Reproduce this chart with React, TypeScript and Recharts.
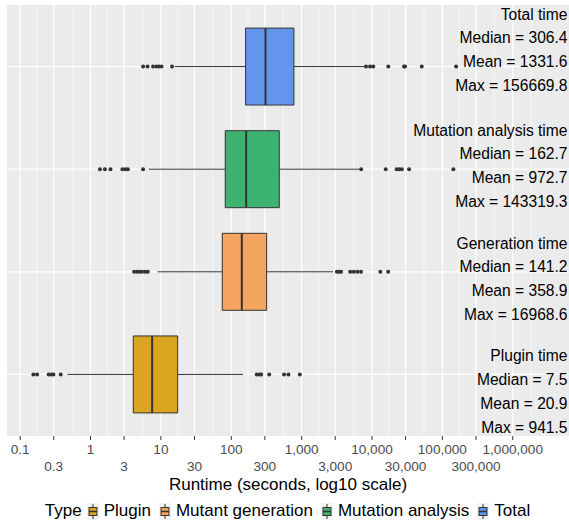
import React from "react";
import { CartesianGrid, ComposedChart, Label, ReferenceArea, ReferenceLine, Scatter, XAxis, YAxis } from "recharts";

const FONT = "'Liberation Sans', Arial, Helvetica, sans-serif";

// one entry per box, bottom to top
const types = ["Plugin", "Mutant generation", "Mutation analysis", "Total"];
const colors = ["#DAA520", "#F4A460", "#3CB371", "#6495ED"];
const positions = [1, 2, 3, 4];

const lowerWhisker = [0.47, 9.0, 6.7, 15.8];
const q1 = [4.05, 74.5, 82.1, 159.7];
const medians = [7.5, 141.2, 162.7, 306.4];
const q3 = [17.3, 318, 481, 777];
const upperWhisker = [147, 2800, 6600, 7940];

const pluginOutliers = [0.154, 0.174, 0.254, 0.276, 0.297, 0.377, 230, 251, 266, 346, 562, 649, 941.5];
const generationOutliers = [4.16, 4.57, 4.96, 5.38, 5.94, 6.51, 3160, 3430, 3630, 4900, 5510, 6200, 6980, 13130, 16968.6];
const mutationOutliers = [1.36, 1.6, 1.92, 2.84, 3.13, 3.39, 5.58, 7000, 15670, 22400, 24400, 26500, 33600, 143319.3];
const totalOutliers = [5.58, 6.45, 7.74, 8.65, 9.42, 10.2, 14.4, 8220, 9370, 10420, 17060, 28500, 29500, 50900, 156669.8];
const outliers = [pluginOutliers, generationOutliers, mutationOutliers, totalOutliers];

// summary text
const titles = ["Plugin time", "Generation time", "Mutation analysis time", "Total time"];
const means = [20.9, 358.9, 972.7, 1331.6];
const maxes = [941.5, 16968.6, 143319.3, 156669.8];

const xTicks = [0.1, 0.3, 1, 3, 10, 30, 100, 300, 1000, 3000, 10000, 30000, 100000, 300000, 1000000];

// layout of the text blocks (data units)
const textX = 6e6;
const textTop = [0.18, 0.28, 0.38, 0.51];
const textStep = 0.231;
const halfBox = 0.375;

const minorTicks = xTicks.slice(1).map((v, i) => Math.sqrt(v * xTicks[i]));
minorTicks.push(Math.sqrt(1000000 * 1000000 * (1000000 / 300000)));

const fmtTick = (v: number) => (v >= 1000 ? v.toLocaleString("en-US") : String(v));

const textRows = positions.flatMap((p, i) => [
  { x: textX, y: p + textTop[i], text: titles[i] },
  { x: textX, y: p + textTop[i] - textStep, text: `Median = ${medians[i].toFixed(1)}` },
  { x: textX, y: p + textTop[i] - 2 * textStep, text: `Mean = ${means[i].toFixed(1)}` },
  { x: textX, y: p + textTop[i] - 3 * textStep, text: `Max = ${maxes[i].toFixed(1)}` },
]);

function DodgeTick(props: any) {
  const { x, y, payload } = props;
  const row = xTicks.indexOf(payload.value) % 2;
  return (
    <text x={x} y={y + 12 + row * 17} textAnchor="middle" fill="#4D4D4D" fontSize={13.6} fontFamily={FONT}>
      {fmtTick(payload.value)}
    </text>
  );
}

function KeyGlyph({ color }: { color: string }) {
  return (
    <svg width={12} height={17} style={{ display: "block" }}>
      <rect x={0} y={0} width={12} height={17} fill="#F2F2F2" />
      <line x1={6} y1={1} x2={6} y2={16} stroke="#333" strokeWidth={1} />
      <rect x={2} y={4.5} width={8} height={8} fill={color} stroke="#333" strokeWidth={1} />
      <line x1={2} y1={8.5} x2={10} y2={8.5} stroke="#333" strokeWidth={1.5} />
    </svg>
  );
}

export default function App() {
  return (
    <div style={{ position: "absolute", left: 0, top: 0, width: 569, height: 522, background: "#fff", fontFamily: FONT }}>
      <ComposedChart width={569} height={522} margin={{ top: 5, right: 0, bottom: 32, left: 7 }}>
        <CartesianGrid
          fill="#EBEBEB"
          fillOpacity={1}
          stroke="#fff"
          strokeWidth={1.2}
          horizontalValues={positions}
          verticalValues={xTicks} />
        <CartesianGrid
          horizontal={false}
          stroke="#fff"
          strokeWidth={0.6}
          verticalValues={minorTicks} />
        <XAxis
          type="number"
          dataKey="x"
          scale="log"
          domain={[0.065, 6.3e6]}
          allowDataOverflow
          ticks={xTicks}
          interval={0}
          tick={<DodgeTick />}
          tickSize={4}
          tickLine={{ stroke: "#333" }}
          axisLine={false}
          height={54}>
          <Label
            value="Runtime (seconds, log10 scale)"
            position="insideBottom"
            offset={0}
            style={{ fontSize: 17, fill: "#000", fontFamily: FONT }} />
        </XAxis>
        <YAxis type="number" dataKey="y" domain={[0.4, 4.6]} hide />

        {positions.map((p, i) => (
          <ReferenceLine
            key={`wl${i}`}
            segment={[{ x: lowerWhisker[i], y: p }, { x: q1[i], y: p }]}
            stroke="#333"
            strokeWidth={1} />
        ))}
        {positions.map((p, i) => (
          <ReferenceLine
            key={`wu${i}`}
            segment={[{ x: q3[i], y: p }, { x: upperWhisker[i], y: p }]}
            stroke="#333"
            strokeWidth={1} />
        ))}
        {positions.map((p, i) => (
          <ReferenceArea
            key={`box${i}`}
            x1={q1[i]}
            x2={q3[i]}
            y1={p - halfBox}
            y2={p + halfBox}
            fill={colors[i]}
            fillOpacity={1}
            stroke="#333"
            strokeWidth={1} />
        ))}
        {positions.map((p, i) => (
          <ReferenceLine
            key={`med${i}`}
            segment={[{ x: medians[i], y: p - halfBox }, { x: medians[i], y: p + halfBox }]}
            stroke="#333"
            strokeWidth={2} />
        ))}
        {positions.map((p, i) => (
          <Scatter
            key={`out${i}`}
            data={outliers[i].map((v) => ({ x: v, y: p }))}
            isAnimationActive={false}
            shape={(s: any) => <circle cx={s.cx} cy={s.cy} r={2} fill="#333" />} />
        ))}
        <Scatter
          data={textRows}
          isAnimationActive={false}
          shape={(s: any) => (
            <text x={s.cx} y={s.cy} textAnchor="end" dominantBaseline="central" fontSize={15.6} fill="#000" fontFamily={FONT}>
              {s.payload.text}
            </text>
          )} />
      </ComposedChart>

      <div
        style={{
          position: "absolute",
          left: 0,
          top: 501,
          width: 569,
          height: 20,
          display: "flex",
          justifyContent: "center",
          alignItems: "center",
          fontSize: 17,
          color: "#000",
          paddingLeft: 6,
          boxSizing: "border-box",
        }}>
        <span style={{ marginRight: 5 }}>Type</span>
        {types.map((t, i) => (
          <React.Fragment key={t}>
            <KeyGlyph color={colors[i]} />
            <span style={{ marginLeft: 5, marginRight: i < types.length - 1 ? 8 : 0 }}>{t}</span>
          </React.Fragment>
        ))}
      </div>
    </div>
  );
}
